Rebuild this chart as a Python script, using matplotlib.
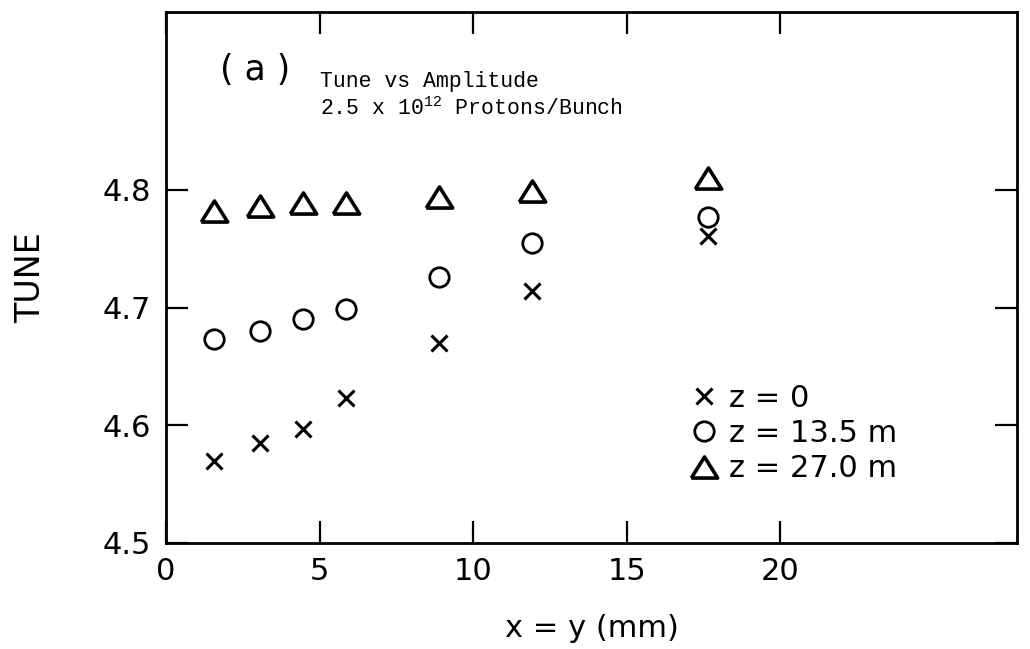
import matplotlib
matplotlib.use("Agg")
import matplotlib.pyplot as plt

# amplitude x = y (mm)
amplitude = [1.55, 3.05, 4.45, 5.85, 8.9, 11.9, 17.65]

# tune at the three z positions
tune_z0 = [4.570, 4.585, 4.597, 4.623, 4.670, 4.714, 4.761]
tune_z135 = [4.673, 4.680, 4.690, 4.699, 4.726, 4.755, 4.777]
tune_z270 = [4.782, 4.786, 4.789, 4.789, 4.794, 4.799, 4.810]

labels = ["z = 0", "z = 13.5 m", "z = 27.0 m"]
x_ticks = [0, 5, 10, 15, 20]
y_ticks = [4.5, 4.6, 4.7, 4.8]

plt.rcParams["font.family"] = "DejaVu Sans"
plt.rcParams["mathtext.fontset"] = "custom"
plt.rcParams["mathtext.rm"] = "Liberation Mono"

W, H = 1030, 649
fig = plt.figure(figsize=(W / 100, H / 100), dpi=100)
ax = fig.add_axes([166 / W, 1 - 543 / H, (1017 - 166) / W, (543 - 12) / H])

# flat open triangle
tri = [(-1, -0.8), (1, -0.8), (0, 0.8), (-1, -0.8)]

ax.plot(amplitude, tune_z0, linestyle="none", marker="x", markersize=12,
        markeredgewidth=2.2, color="black", label=labels[0])
ax.plot(amplitude, tune_z135, linestyle="none", marker="o", markersize=14,
        markeredgewidth=2.0, markerfacecolor="none", markeredgecolor="black",
        label=labels[1])
ax.plot(amplitude, tune_z270, linestyle="none", marker=tri, markersize=19,
        markeredgewidth=2.6, markerfacecolor="none", markeredgecolor="black",
        label=labels[2])

ax.set_xlim(0, 27.7)
ax.set_ylim(4.5, 4.951)
ax.set_xticks(x_ticks)
ax.set_yticks(y_ticks)
ax.set_xticklabels([str(v) for v in x_ticks])
ax.set_yticklabels([f"{v:.1f}" for v in y_ticks])

ax.tick_params(axis="both", direction="in", length=16, width=1.6,
               top=True, right=True, labelsize=22, colors="black")
ax.tick_params(axis="x", pad=10)
ax.tick_params(axis="y", pad=11)
for s in ax.spines.values():
    s.set_linewidth(2)
    s.set_color("black")

ax.set_ylabel("TUNE", fontsize=24, labelpad=40)
ax.set_xlabel("x = y (mm)", fontsize=22, labelpad=20)

fig.text(220 / W, 1 - 70 / H, "( a )", fontsize=25, ha="left", va="center")

# caption in typewriter face
fig.text(320 / W, 1 - 81 / H, "Tune vs Amplitude", fontsize=15.5,
         family="Liberation Mono", ha="left", va="center")
fig.text(320 / W, 1 - 109 / H, r"2.5 x 10$\mathregular{^{12}}$ Protons/Bunch",
         fontsize=15.5, family="Liberation Mono", ha="left", va="center")

ax.legend(loc="upper left", bbox_to_anchor=(692 / W, 1 - 384 / H),
          bbox_transform=fig.transFigure, frameon=False, fontsize=22,
          numpoints=1, handlelength=0.8, handletextpad=0.4,
          labelspacing=0.2, borderpad=0, borderaxespad=0)

fig.savefig("out.png", dpi=100)
